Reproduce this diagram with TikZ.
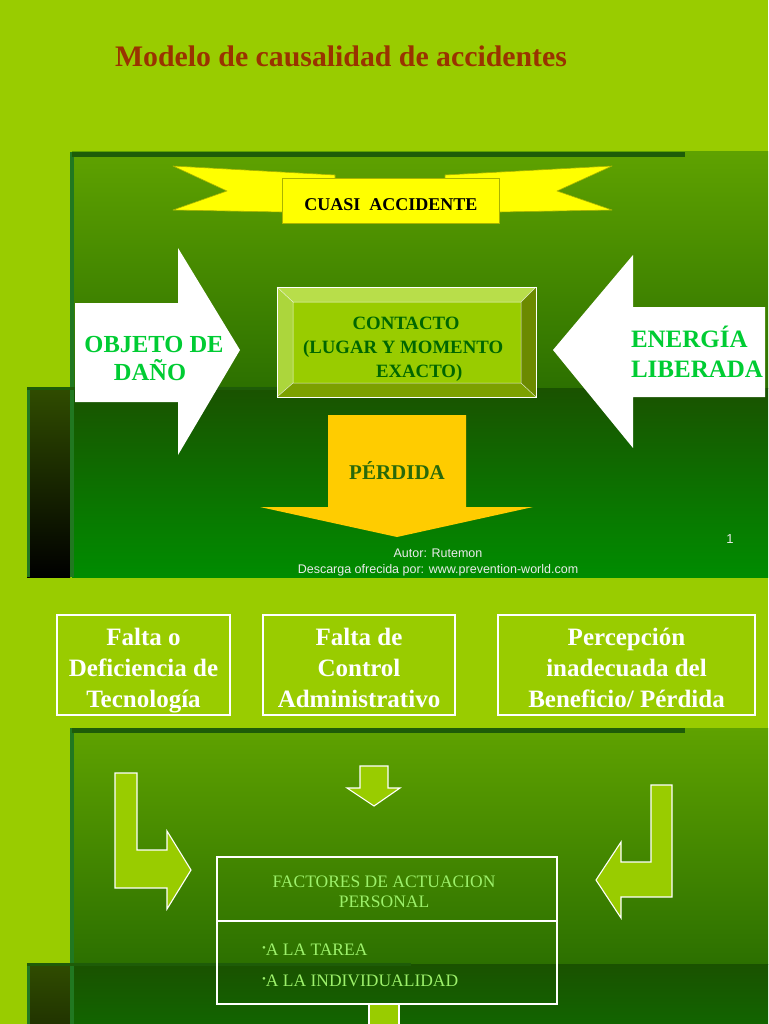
\documentclass[tikz,border=0pt]{standalone}
\usepackage{fontspec}
\setmainfont{Liberation Serif}
\setsansfont{Liberation Sans}
\definecolor{bglime}{RGB}{153,204,0}
\definecolor{slideAtop}{RGB}{95,162,0}
\definecolor{slideAbot}{RGB}{44,112,0}
\definecolor{slideBtop}{RGB}{26,82,0}
\definecolor{slideBbot}{RGB}{0,140,0}
\definecolor{sidetop}{RGB}{48,76,0}
\definecolor{edgegreen}{RGB}{33,120,33}
\definecolor{topline}{RGB}{30,92,8}
\definecolor{titlered}{RGB}{153,51,0}
\definecolor{ribbon}{RGB}{255,255,0}
\definecolor{ribbonedge}{RGB}{170,180,0}
\definecolor{txtgreen}{RGB}{0,204,51}
\definecolor{darkgreen}{RGB}{0,102,0}
\definecolor{gold}{RGB}{255,204,0}
\definecolor{perdidatxt}{RGB}{40,105,10}
\definecolor{bevtop}{RGB}{184,222,74}
\definecolor{bevleft}{RGB}{172,214,60}
\definecolor{bevright}{RGB}{108,138,0}
\definecolor{bevbot}{RGB}{124,160,0}
\definecolor{paletext}{RGB}{156,240,106}
\definecolor{footgray}{RGB}{235,235,235}
\begin{document}
\begin{tikzpicture}[x=1pt,y=-1pt,
  txt/.style={inner sep=0pt, outer sep=0pt},
  boxtxt/.style={txt, anchor=base, text=white, font=\bfseries\fontsize{25}{31}\selectfont},
  arrowtxt/.style={txt, text=txtgreen, font=\bfseries\fontsize{24.5}{30}\selectfont},
  facttxt/.style={txt, text=paletext, font=\fontsize{17.5}{21}\selectfont},
  conttxt/.style={txt, text=darkgreen, font=\bfseries\fontsize{18.8}{24}\selectfont},
  foottxt/.style={txt, anchor=base, text=footgray, font=\sffamily\fontsize{12.5}{15}\selectfont},
  whitebox/.style={draw=white, line width=1.1pt},
  limearrow/.style={fill=bglime, draw=white, line width=1.1pt, line join=miter},
  whitearrow/.style={fill=white},
]
\useasboundingbox (0,0) rectangle (768,1024);
\fill[bglime] (0,0) rectangle (768,1024);

% slide templates
\foreach \dy in {0,576}{
\begin{scope}[shift={(0,\dy)}]
  \shade[top color=slideAtop, bottom color=slideAbot] (72,152) rectangle (768,388);
  \shade[top color=slideBtop, bottom color=slideBbot] (72,388) rectangle (768,577);
  \shade[top color=sidetop, bottom color=black] (27,388) rectangle (70,577);
  \fill[edgegreen] (27,388) rectangle (29.5,577);
  \fill[edgegreen] (70,152) rectangle (74,577);
  \fill[topline] (72,152) rectangle (685,157);
  \fill[topline] (27,386.5) rectangle (411,389.5);
\end{scope}
}

% title
\node[txt, anchor=base west, text=titlered, font=\bfseries\fontsize{29.8}{35}\selectfont] (title) at (115,67) {Modelo de causalidad de accidentes};

% ribbon
\filldraw[fill=ribbon, draw=ribbonedge, line width=0.6pt, line join=round] (173,166) -- (335,175) -- (335,212) -- (282,212) -- (173,210) -- (227,191) -- cycle;
\filldraw[fill=ribbon, draw=ribbonedge, line width=0.6pt, line join=round] (445,175) -- (612,166) -- (557,191) -- (612,210) -- (499,212) -- (445,212) -- cycle;
\filldraw[fill=ribbon, draw=ribbonedge, line width=0.6pt] (282,178) rectangle (499,223);
\node[txt, anchor=base, font=\bfseries\fontsize{18}{22}\selectfont] (cuasi) at (391,211) {CUASI\ \ ACCIDENTE};

% contacto bevel box
\fill[bglime] (293,302) rectangle (521,383);
\fill[bevtop] (277,287) -- (536,287) -- (521,302) -- (293,302) -- cycle;
\fill[bevleft] (277,287) -- (293,302) -- (293,383) -- (277,397) -- cycle;
\fill[bevright] (536,287) -- (536,397) -- (521,383) -- (521,302) -- cycle;
\fill[bevbot] (277,397) -- (536,397) -- (521,383) -- (293,383) -- cycle;
\draw[white, line width=0.5pt, opacity=0.8] (293,302) rectangle (521,383)
  (277,287) -- (293,302) (536,287) -- (521,302) (277,397) -- (293,383) (536,397) -- (521,383);
\draw[white, line width=1pt] (277,287) rectangle (536,397);
\node[conttxt, anchor=base] (cont1) at (406,329) {CONTACTO};
\node[conttxt, anchor=base west] (cont2) at (303,353) {(LUGAR Y MOMENTO};
\node[conttxt, anchor=base west] (cont3) at (376,377) {EXACTO)};

% left white arrow
\fill[whitearrow] (75,303) -- (178,303) -- (178,248) -- (240,350) -- (178,455) -- (178,402) -- (75,402) -- cycle;
\node[arrowtxt, anchor=base] (obj1) at (154,352) {OBJETO DE};
\node[arrowtxt, anchor=base] (obj2) at (150,380) {DAÑO};

% right white arrow
\fill[whitearrow] (765,307) -- (633,307) -- (633,255) -- (553,350) -- (633,448) -- (633,397) -- (765,397) -- cycle;
\node[arrowtxt, anchor=base west, font=\bfseries\fontsize{25}{30}\selectfont] (ene1) at (631,347) {ENERGÍA};
\node[arrowtxt, anchor=base west, font=\bfseries\fontsize{25}{30}\selectfont] (ene2) at (631,377) {LIBERADA};

% perdida arrow
\fill[gold] (328,415) -- (466,415) -- (466,507) -- (533,507) -- (397,537) -- (260,507) -- (328,507) -- cycle;
\node[txt, anchor=base, text=perdidatxt, font=\bfseries\fontsize{21}{25}\selectfont] (perd) at (397,479) {PÉRDIDA};

% footer
\node[foottxt, font=\sffamily\fontsize{13}{15}\selectfont] (num) at (730,543) {1};
\node[foottxt] (autor) at (438,557) {Autor: Rutemon};
\node[foottxt] (desc) at (438,573) {Descarga ofrecida por: www.prevention-world.com};

% three cause boxes
\draw[whitebox] (57,615) rectangle (230,715);
\node[boxtxt] (b1a) at (143.5,645) {Falta o};
\node[boxtxt] (b1b) at (143.5,676) {Deficiencia de};
\node[boxtxt] (b1c) at (143.5,707) {Tecnología};
\draw[whitebox] (263,615) rectangle (455,715);
\node[boxtxt] (b2a) at (359,645) {Falta de};
\node[boxtxt] (b2b) at (359,676) {Control};
\node[boxtxt] (b2c) at (359,707) {Administrativo};
\draw[whitebox] (498,615) rectangle (755,715);
\node[boxtxt] (b3a) at (626.5,645) {Percepción};
\node[boxtxt] (b3b) at (626.5,676) {inadecuada del};
\node[boxtxt] (b3c) at (626.5,707) {Beneficio/ Pérdida};

% lower arrows
\filldraw[limearrow] (115,773) -- (137,773) -- (137,850) -- (167,850) -- (167,831) -- (191,870) -- (167,909) -- (167,888) -- (115,888) -- cycle;
\filldraw[limearrow] (360,766) -- (388,766) -- (388,788) -- (400,788) -- (374,806) -- (347,788) -- (360,788) -- cycle;
\filldraw[limearrow] (651,785) -- (672,785) -- (672,897) -- (621,897) -- (621,918) -- (596,880) -- (621,842) -- (621,862) -- (651,862) -- cycle;

% factores box
\draw[whitebox] (217,857) rectangle (557,1004);
\draw[whitebox] (217,921) -- (557,921);
\node[facttxt, anchor=base] (fa1) at (384,887) {FACTORES DE ACTUACION};
\node[facttxt, anchor=base] (fa2) at (384,907) {PERSONAL};
\node[facttxt, anchor=base west] (fa3) at (262,955) {\raisebox{4pt}{\fontsize{11}{11}\selectfont •}A LA TAREA};
\node[facttxt, anchor=base west] (fa4) at (262,986) {\raisebox{4pt}{\fontsize{11}{11}\selectfont •}A LA INDIVIDUALIDAD};
\filldraw[limearrow] (369,1004) rectangle (399,1030);
\end{tikzpicture}
\end{document}
